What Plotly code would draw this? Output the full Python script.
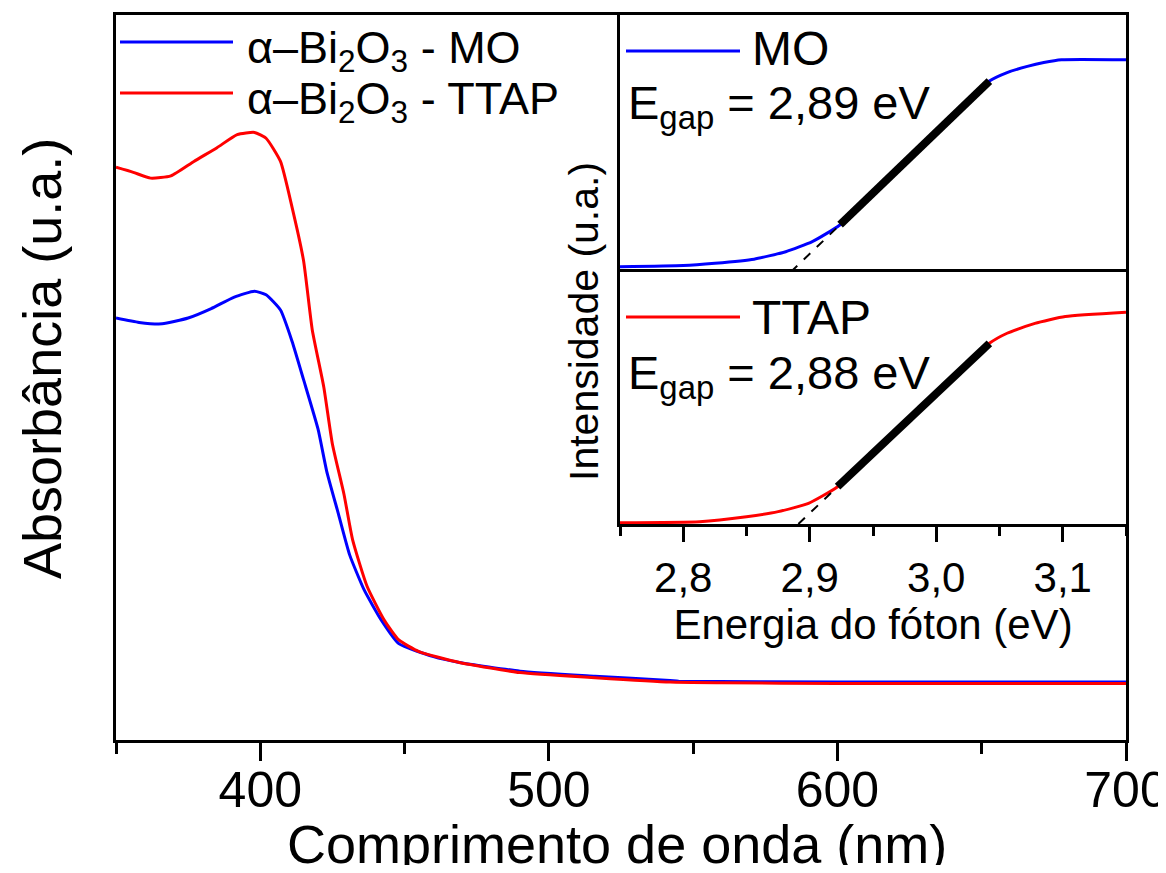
import plotly.graph_objects as go

# ---------------- data ----------------
# main plot: absorbance spectra (arbitrary units)
blue_wl = [350, 358, 366, 375, 383, 391, 398, 402, 407, 411, 415, 420, 423, 427, 431, 436, 442, 448, 460, 469, 490, 516, 542, 545, 600, 650, 700]
blue_abs = [0.582, 0.576, 0.574, 0.582, 0.595, 0.611, 0.619, 0.614, 0.593, 0.550, 0.497, 0.429, 0.371, 0.313, 0.255, 0.207, 0.165, 0.133, 0.115, 0.107, 0.095, 0.088, 0.082, 0.081, 0.080, 0.080, 0.080]

red_wl = [350, 356, 362, 369, 377, 385, 392, 398, 402, 407, 411, 415, 418, 422, 425, 429, 432, 437, 443, 448, 455, 469, 490, 516, 542, 560, 600, 650, 700]
red_abs = [0.790, 0.783, 0.775, 0.778, 0.798, 0.817, 0.835, 0.838, 0.830, 0.798, 0.735, 0.661, 0.566, 0.487, 0.408, 0.339, 0.276, 0.212, 0.165, 0.138, 0.122, 0.107, 0.093, 0.086, 0.080, 0.079, 0.078, 0.078, 0.078]

main_ticks = [400, 500, 600, 700]
main_ticklabels = ["400", "500", "600", "700"]

# inset: band-gap curves
mo_e = [2.75, 2.80, 2.825, 2.856, 2.881, 2.902, 2.924, 2.98, 3.042, 3.056, 3.072, 3.085, 3.099, 3.15]
mo_i = [0.020, 0.025, 0.034, 0.050, 0.079, 0.118, 0.184, 0.449, 0.743, 0.776, 0.800, 0.815, 0.826, 0.826]
mo_fit_e = [2.924, 3.042]
mo_fit_i = [0.184, 0.743]
mo_ext_e = [2.885, 2.924]
mo_ext_i = [0.0, 0.184]

tt_e = [2.75, 2.813, 2.85, 2.875, 2.899, 2.922, 2.98, 3.042, 3.056, 3.078, 3.102, 3.15]
tt_i = [0.005, 0.009, 0.029, 0.049, 0.082, 0.148, 0.423, 0.717, 0.757, 0.796, 0.823, 0.840]
tt_fit_e = [2.922, 3.042]
tt_fit_i = [0.148, 0.717]
tt_ext_e = [2.891, 2.922]
tt_ext_i = [0.0, 0.148]

inset_ticks = [2.8, 2.9, 3.0, 3.1]
inset_ticklabels = ["2,8", "2,9", "3,0", "3,1"]

main_names = ["α–Bi<sub>2</sub>O<sub>3</sub> - MO",
              "α–Bi<sub>2</sub>O<sub>3</sub> - TTAP"]
inset_names = ["MO", "TTAP"]
gap_labels = ["E<sub>gap</sub> = 2,89 eV", "E<sub>gap</sub> = 2,88 eV"]

# ---------------- figure ----------------
OFF = 8                      # default page margin of the html body
W, H = 1166 - 2 * OFF, 873 - 2 * OFF
FONT = "Liberation Sans, Arial, sans-serif"
BLUE = "#0000ff"
RED = "#ff0000"


def px(x):
    return (x - OFF) / W


def py(y):
    return 1 - (y - OFF) / H


fig = go.Figure()

# main curves
fig.add_trace(go.Scatter(x=blue_wl, y=blue_abs, mode="lines", line=dict(color=BLUE, width=3, shape="spline", smoothing=0.5),
                         xaxis="x", yaxis="y", showlegend=False))
fig.add_trace(go.Scatter(x=red_wl, y=red_abs, mode="lines", line=dict(color=RED, width=3, shape="spline", smoothing=0.5),
                         xaxis="x", yaxis="y", showlegend=False))

# inset upper (MO)
fig.add_trace(go.Scatter(x=mo_e, y=mo_i, mode="lines", line=dict(color=BLUE, width=3, shape="spline", smoothing=0.5),
                         xaxis="x2", yaxis="y2", showlegend=False))
fig.add_trace(go.Scatter(x=mo_ext_e, y=mo_ext_i, mode="lines", line=dict(color="black", width=2, dash="dash"),
                         xaxis="x2", yaxis="y2", showlegend=False))
fig.add_trace(go.Scatter(x=mo_fit_e, y=mo_fit_i, mode="lines", line=dict(color="black", width=8),
                         xaxis="x2", yaxis="y2", showlegend=False))

# inset lower (TTAP)
fig.add_trace(go.Scatter(x=tt_e, y=tt_i, mode="lines", line=dict(color=RED, width=3, shape="spline", smoothing=0.5),
                         xaxis="x3", yaxis="y3", showlegend=False))
fig.add_trace(go.Scatter(x=tt_ext_e, y=tt_ext_i, mode="lines", line=dict(color="black", width=2, dash="dash"),
                         xaxis="x3", yaxis="y3", showlegend=False))
fig.add_trace(go.Scatter(x=tt_fit_e, y=tt_fit_i, mode="lines", line=dict(color="black", width=8),
                         xaxis="x3", yaxis="y3", showlegend=False))

main_xdom = [px(116), px(1126)]
main_ydom = [py(740), py(15)]
inset_xdom = [px(620), px(1126)]
up_ydom = [py(272), py(15)]
lo_ydom = [py(524), py(272)]

axis_common = dict(showline=True, linecolor="black", mirror=True, showgrid=False, zeroline=False, automargin=False)

fig.update_layout(
    width=W, height=H,
    margin=dict(l=0, r=0, t=0, b=0, autoexpand=False),
    paper_bgcolor="white", plot_bgcolor="white",
    font=dict(family=FONT, color="black"),
    showlegend=False,
    xaxis=dict(domain=main_xdom, anchor="y", range=[350, 700], linewidth=3,
               tickmode="array", tickvals=main_ticks, ticktext=main_ticklabels,
               ticks="outside", ticklen=18, tickwidth=3, tickcolor="black",
               minor=dict(tickmode="linear", tick0=350, dtick=50, ticks="outside", ticklen=11, tickwidth=3, tickcolor="black"),
               tickfont=dict(size=50, family=FONT), ticklabelstandoff=-14, ticklabeloverflow="allow",
               **axis_common),
    yaxis=dict(domain=main_ydom, anchor="x", range=[0, 1], linewidth=3,
               showticklabels=False, ticks="", **axis_common),
    xaxis2=dict(domain=inset_xdom, anchor="y2", range=[2.75, 3.15], linewidth=3,
                tickmode="array", tickvals=inset_ticks, ticktext=inset_ticklabels, showticklabels=False,
                ticks="outside", ticklen=15, tickwidth=3, tickcolor="black",
                minor=dict(tickmode="linear", tick0=2.75, dtick=0.05, ticks="outside", ticklen=9, tickwidth=3, tickcolor="black"),
                **axis_common),
    yaxis2=dict(domain=up_ydom, anchor="x2", range=[0, 1], linewidth=3,
                showticklabels=False, ticks="", **axis_common),
    xaxis3=dict(domain=inset_xdom, anchor="y3", range=[2.75, 3.15], linewidth=3,
                tickmode="array", tickvals=inset_ticks, ticktext=inset_ticklabels,
                ticks="outside", ticklen=15, tickwidth=3, tickcolor="black",
                minor=dict(tickmode="linear", tick0=2.75, dtick=0.05, ticks="outside", ticklen=9, tickwidth=3, tickcolor="black"),
                tickfont=dict(size=42, family=FONT), ticklabelstandoff=0,
                title=dict(text="Energia do fóton (eV)", font=dict(size=42, family=FONT), standoff=2),
                **axis_common),
    yaxis3=dict(domain=lo_ydom, anchor="x3", range=[0, 1], linewidth=3,
                showticklabels=False, ticks="", **axis_common),
)

# main axis titles
fig.add_annotation(text="Comprimento de onda (nm)", x=px(617), y=py(844), xref="paper", yref="paper",
                   showarrow=False, font=dict(size=54, family=FONT), xanchor="center", yanchor="middle")
fig.add_annotation(text="Absorbância (u.a.)", x=px(42), y=py(359), xref="paper", yref="paper",
                   textangle=-90, showarrow=False, font=dict(size=54, family=FONT), xanchor="center", yanchor="middle")

# shared inset y title
fig.add_annotation(text="Intensidade (u.a.)", x=px(584), y=py(322), xref="paper", yref="paper",
                   textangle=-90, showarrow=False, font=dict(size=41, family=FONT), xanchor="center", yanchor="middle")

# main legend (custom, long line samples)
for name, color, yy, ty in zip(main_names, [BLUE, RED], [42, 93], [50, 101]):
    fig.add_shape(type="line", xref="paper", yref="paper", x0=px(120), x1=px(233), y0=py(yy), y1=py(yy),
                  line=dict(color=color, width=3))
    fig.add_annotation(text=name, x=px(245), y=py(ty), xref="paper", yref="paper", showarrow=False,
                       xanchor="left", yanchor="middle", font=dict(size=45, family=FONT))

# inset legends
for name, color, yy, ty in zip(inset_names, [BLUE, RED], [51, 317], [49, 318]):
    fig.add_shape(type="line", xref="paper", yref="paper", x0=px(626), x1=px(740), y0=py(yy), y1=py(yy),
                  line=dict(color=color, width=3))
    fig.add_annotation(text=name, x=px(750), y=py(ty), xref="paper", yref="paper", showarrow=False,
                       xanchor="left", yanchor="middle", font=dict(size=48, family=FONT))

for lab, yy in zip(gap_labels, [106, 376]):
    fig.add_annotation(text=lab, x=px(626), y=py(yy), xref="paper", yref="paper", showarrow=False,
                       xanchor="left", yanchor="middle", font=dict(size=47, family=FONT))

fig.write_html("out.html")
